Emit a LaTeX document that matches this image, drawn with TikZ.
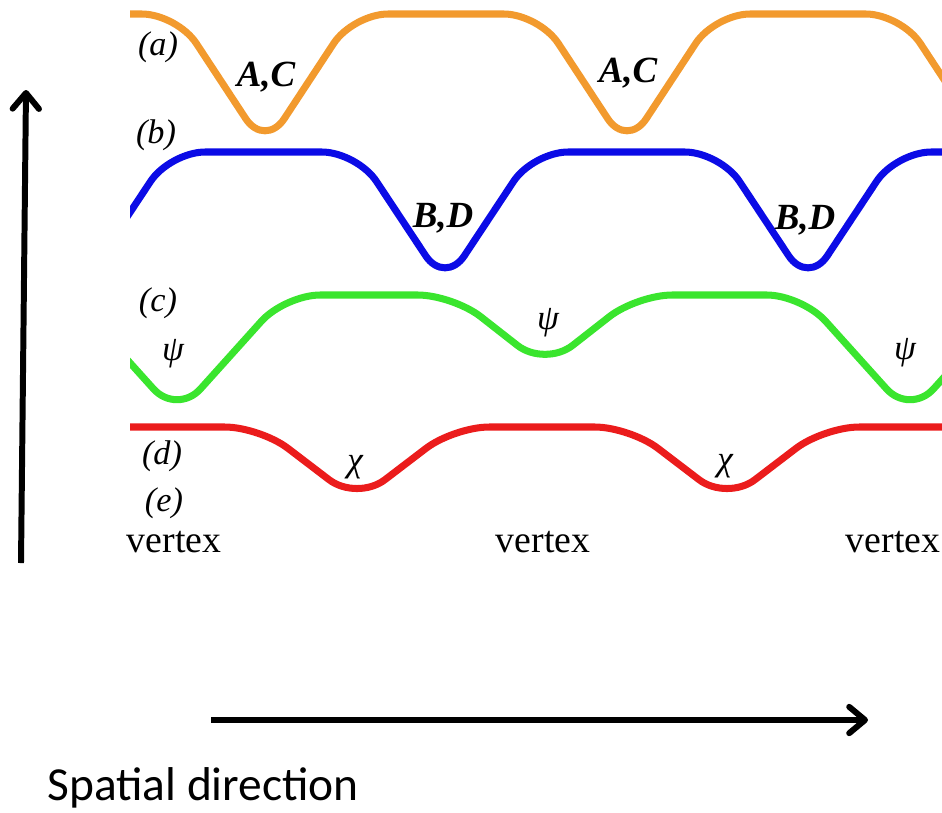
\documentclass[tikz,border=0pt]{standalone}
\usepackage{fontspec}
\setmainfont{Liberation Serif}
\newfontfamily\calibrifont{Carlito}
\usepackage{tikz}
\usetikzlibrary{arrows.meta}
\definecolor{orangeCurve}{HTML}{F29A2E}
\definecolor{blueCurve}{HTML}{0B0BE6}
\definecolor{greenCurve}{HTML}{3AE52E}
\definecolor{redCurve}{HTML}{EB1C1C}

\begin{document}
\begin{tikzpicture}[x=0.02cm, y=-0.02cm,
    wave/.style={line width=4pt, rounded corners=20pt},
    axisarrow/.style={line width=3.4pt, -{Straight Barb[round, length=9pt, width=15pt]}},
    tag/.style={inner sep=0pt, font=\fontsize{19.5}{22}\selectfont\itshape},
    site/.style={inner sep=0pt, font=\fontsize{21}{24}\selectfont\bfseries\itshape},
    field/.style={inner sep=0pt, font=\fontsize{20}{24}\selectfont\itshape},
    vtx/.style={inner sep=0pt, anchor=base, font=\fontsize{21.5}{24}\selectfont}]
    \useasboundingbox (0,0) rectangle (942,812);
    \begin{scope}
        \clip (130,0) rectangle (942,600);
        \draw[wave, orangeCurve] (0,14)
            foreach \c in {265,627,989} { -- ({\c-88},14) -- (\c,148) -- ({\c+88},14) };
        \draw[wave, blueCurve] (-20,152)
            foreach \c in {82,445,808,1171} { -- ({\c-88},152) -- (\c,285) -- ({\c+88},152) };
        \draw[wave, greenCurve] (-60,295)
            foreach \c/\b/\w in {177/415/108, 545/367/92, 910/415/108} { -- ({\c-\w},295) -- (\c,\b) -- ({\c+\w},295) }
            -- (1100,295);
        \draw[wave, redCurve] (0,427)
            foreach \c in {357,727} { -- ({\c-97},427) -- (\c,501) -- ({\c+97},427) }
            -- (1000,427);
    \end{scope}
    \node[tag] (tagA) at (158,47) {(a)};
    \node[tag] (tagB) at (156,135) {(b)};
    \node[tag] (tagC) at (158,303) {(c)};
    \node[tag] (tagD) at (162,456) {(d)};
    \node[tag] (tagE) at (164,503) {(e)};
    \node[site] (acOne) at (266,77) {A,C};
    \node[site] (acTwo) at (628,73) {A,C};
    \node[site] (bdOne) at (443,218) {B,D};
    \node[site] (bdTwo) at (805,220) {B,D};
    \node[field] (psiOne) at (173,354) {ψ};
    \node[field] (psiTwo) at (548,323) {ψ};
    \node[field] (psiThree) at (905,353) {ψ};
    \node[field] (chiOne) at (355,467) {χ};
    \node[field] (chiTwo) at (725,466) {χ};
    \foreach \x/\n in {174/One, 543/Two, 893/Three}
        \node[vtx] (vertex\n) at (\x,552) {vertex};
    \coordinate (upTail) at (21,563);
    \coordinate (upHead) at (26,90);
    \draw[axisarrow] (upTail) -- (upHead);
    \coordinate (rightTail) at (211,720);
    \coordinate (rightHead) at (868,720);
    \draw[axisarrow] (rightTail) -- (rightHead);
    \node[inner sep=0pt, anchor=base west, font=\calibrifont\fontsize{27}{30}\selectfont]
        (spatial) at (47,800) {Spatial direction};
\end{tikzpicture}
\end{document}
